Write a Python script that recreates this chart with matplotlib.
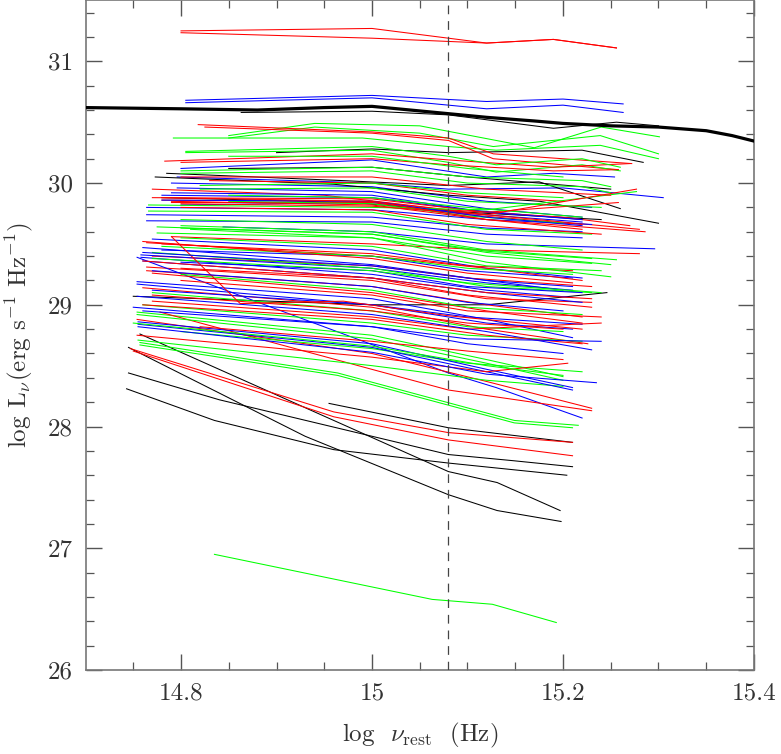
import matplotlib
matplotlib.use("Agg")
import matplotlib.pyplot as plt

plt.rcParams['font.family'] = 'cmr10'
plt.rcParams['mathtext.fontset'] = 'cm'
plt.rcParams['axes.formatter.use_mathtext'] = True

# --- data: each SED is one list of log nu and one list of log L_nu ---
red_x = [
    [14.80, 15.00, 15.12, 15.19, 15.256],
    [14.80, 15.00, 15.12, 15.19, 15.256],
    [14.818, 15.0, 15.08, 15.127, 15.272],
    [14.825, 15.0, 15.08, 15.127, 15.258],
    [14.783, 15.0, 15.08, 15.19, 15.27],
    [14.80, 15.0, 15.08, 15.19, 15.258],
    [14.83, 15.0, 15.1, 15.2],
    [14.77, 14.95, 15.08, 15.2, 15.27],
    [14.77, 15.0, 15.12, 15.258],
    [14.78, 15.0, 15.12, 15.28],
    [14.79, 15.0, 15.1, 15.22],
    [14.79, 15.0, 15.12, 15.286],
    [14.80, 15.0, 15.12, 15.277],
    [14.79, 15.0, 15.12, 15.28],
    [14.78, 15.0, 15.1, 15.21],
    [14.764, 15.0, 15.12, 15.22],
    [14.77, 15.0, 15.1, 15.23],
    [14.764, 15.0, 15.12, 15.23],
    [14.80, 15.0, 15.1, 15.23],
    [14.764, 15.0, 15.12, 15.22],
    [14.77, 15.0, 15.12, 15.22],
    [14.80, 15.0, 15.1, 15.24],
    [14.76, 15.0, 15.12, 15.226],
    [14.77, 15.0, 15.1, 15.24],
    [14.76, 15.0, 15.12, 15.22],
    [14.778, 15.08, 15.23],
    [14.754, 15.0, 15.12, 15.23],
    [14.82, 15.0, 15.1, 15.20],
    [14.754, 15.0, 15.12, 15.205],
    [14.79, 14.862, 14.97, 15.08, 15.22],
    [14.747, 14.96, 15.08, 15.21],
    [14.75, 14.96, 15.08, 15.21],
    [14.76, 15.0, 15.1, 15.21],
    [14.78, 15.0, 15.12, 15.22],
    [14.80, 15.0, 15.1, 15.24],
    [14.76, 15.0, 15.12, 15.23],
    [14.77, 15.0, 15.1, 15.2],
    [14.80, 15.0, 15.12, 15.25],
]
red_y = [
    [31.25, 31.27, 31.15, 31.18, 31.11],
    [31.235, 31.19, 31.15, 31.18, 31.11],
    [30.48, 30.42, 30.37, 30.24, 30.16],
    [30.46, 30.41, 30.35, 30.20, 30.11],
    [30.18, 30.24, 30.19, 30.13, 30.16],
    [30.17, 30.20, 30.15, 30.10, 30.11],
    [30.02, 30.0, 29.90, 29.85],
    [29.95, 29.90, 29.78, 29.72, 29.65],
    [29.88, 29.87, 29.76, 29.84],
    [29.86, 29.85, 29.74, 29.62],
    [29.84, 29.84, 29.74, 29.66],
    [29.85, 29.82, 29.70, 29.60],
    [29.83, 29.81, 29.74, 29.95],
    [29.56, 29.50, 29.45, 29.42],
    [29.50, 29.42, 29.32, 29.28],
    [29.51, 29.40, 29.30, 29.20],
    [29.40, 29.32, 29.22, 29.15],
    [29.31, 29.20, 29.05, 29.02],
    [29.30, 29.22, 29.08, 28.98],
    [29.28, 29.15, 29.00, 28.90],
    [29.26, 29.10, 28.95, 28.85],
    [29.20, 29.08, 28.95, 28.90],
    [29.14, 28.98, 28.80, 28.68],
    [29.03, 28.90, 28.80, 28.85],
    [29.00, 28.88, 28.75, 28.68],
    [28.94, 28.30, 28.13],
    [28.88, 28.60, 28.37, 28.15],
    [28.82, 28.70, 28.62, 28.55],
    [28.75, 28.57, 28.45, 28.52],
    [29.56, 29.01, 29.03, 28.91, 28.80],
    [28.64, 28.12, 27.95, 27.87],
    [28.62, 28.08, 27.89, 27.76],
    [29.52, 29.38, 29.26, 29.18],
    [29.88, 29.85, 29.70, 29.62],
    [29.80, 29.78, 29.66, 29.58],
    [29.36, 29.22, 29.10, 29.05],
    [29.08, 28.95, 28.85, 28.80],
    [30.05, 30.05, 29.95, 29.90],
]

green_x = [
    [14.85, 14.94, 15.05, 15.17, 15.24, 15.301],
    [14.85, 14.94, 15.05, 15.127, 15.239, 15.30],
    [14.792, 14.99, 15.08, 15.13, 15.239, 15.30],
    [14.805, 15.0, 15.08, 15.13, 15.22, 15.26],
    [14.805, 15.0, 15.08, 15.13, 15.22, 15.26],
    [14.80, 15.0, 15.1, 15.22, 15.25],
    [14.80, 15.0, 15.1, 15.22, 15.25],
    [14.82, 15.0, 15.1, 15.2],
    [14.82, 15.0, 15.1, 15.24],
    [14.85, 15.0, 15.1, 15.22],
    [14.85, 15.0, 15.1, 15.20],
    [14.766, 15.0, 15.12, 15.277],
    [14.766, 15.0, 15.12, 15.23],
    [14.80, 15.0, 15.12, 15.256],
    [14.80, 15.0, 15.12, 15.25],
    [14.81, 15.0, 15.12, 15.25],
    [14.775, 15.0, 15.12, 15.23],
    [14.775, 15.0, 15.12, 15.23],
    [14.78, 15.0, 15.1, 15.21],
    [14.77, 15.0, 15.12, 15.23],
    [14.77, 15.0, 15.1, 15.24],
    [14.80, 15.0, 15.1, 15.22],
    [14.77, 15.0, 15.1, 15.20],
    [14.76, 15.0, 15.1, 15.22],
    [14.754, 15.0, 15.12, 15.20],
    [14.754, 15.0, 15.12, 15.20],
    [14.80, 15.0, 15.1, 15.22],
    [14.755, 15.0, 15.12, 15.20],
    [14.757, 14.964, 15.149, 15.216],
    [14.757, 14.964, 15.149, 15.21],
    [14.835, 15.063, 15.126, 15.193],
    [14.80, 15.0, 15.12, 15.22],
    [14.80, 15.0, 15.12, 15.24],
    [14.75, 15.0, 15.12, 15.2],
    [14.85, 15.0, 15.1, 15.2],
]
green_y = [
    [30.39, 30.49, 30.47, 30.29, 30.46, 30.38],
    [30.37, 30.46, 30.41, 30.30, 30.39, 30.24],
    [30.37, 30.37, 30.30, 30.27, 30.31, 30.20],
    [30.25, 30.27, 30.17, 30.09, 30.15, 30.10],
    [30.26, 30.30, 30.22, 30.15, 30.20, 30.13],
    [30.10, 30.13, 30.05, 30.02, 29.97],
    [30.08, 30.10, 30.00, 29.97, 29.92],
    [29.98, 30.00, 29.92, 29.88],
    [29.95, 29.96, 29.85, 29.80],
    [29.90, 29.88, 29.80, 29.72],
    [29.85, 29.83, 29.73, 29.67],
    [29.82, 29.80, 29.78, 29.93],
    [29.77, 29.76, 29.62, 29.58],
    [29.65, 29.60, 29.45, 29.37],
    [29.63, 29.58, 29.43, 29.33],
    [29.62, 29.55, 29.35, 29.23],
    [29.64, 29.58, 29.44, 29.38],
    [29.59, 29.55, 29.40, 29.34],
    [29.48, 29.40, 29.30, 29.25],
    [29.43, 29.30, 29.15, 29.10],
    [29.38, 29.28, 29.18, 29.10],
    [29.25, 29.12, 28.98, 28.92],
    [29.10, 28.95, 28.82, 28.78],
    [29.00, 28.85, 28.75, 28.70],
    [28.94, 28.75, 28.55, 28.41],
    [28.92, 28.72, 28.52, 28.38],
    [28.78, 28.64, 28.52, 28.45],
    [28.71, 28.50, 28.38, 28.33],
    [28.69, 28.44, 28.05, 28.01],
    [28.67, 28.42, 28.03, 27.99],
    [26.95, 26.58, 26.54, 26.39],
    [29.70, 29.66, 29.52, 29.45],
    [29.55, 29.48, 29.32, 29.28],
    [28.85, 28.66, 28.50, 28.42],
    [30.22, 30.22, 30.12, 30.05],
]

blue_x = [
    [14.805, 15.00, 15.12, 15.20, 15.263],
    [14.805, 15.00, 15.12, 15.20, 15.263],
    [14.80, 15.0, 15.12, 15.19, 15.254],
    [14.796, 15.0, 15.08, 15.20, 15.305],
    [14.79, 15.0, 15.12, 15.23],
    [14.796, 15.0, 15.12, 15.22],
    [14.78, 15.0, 15.1, 15.22],
    [14.79, 15.0, 15.12, 15.22],
    [14.80, 15.0, 15.1, 15.22],
    [14.764, 15.0, 15.12, 15.23],
    [14.764, 15.0, 15.12, 15.22],
    [14.764, 15.0, 15.12, 15.22],
    [14.844, 15.0, 15.12, 15.296],
    [14.77, 15.0, 15.12, 15.22],
    [14.78, 15.0, 15.1, 15.21],
    [14.76, 15.0, 15.12, 15.20],
    [14.758, 15.0, 15.12, 15.21],
    [14.758, 15.0, 15.12, 15.21],
    [14.754, 15.08, 15.13, 15.22],
    [14.80, 15.0, 15.1, 15.22],
    [14.754, 15.0, 15.12, 15.21],
    [14.754, 15.0, 15.12, 15.21],
    [14.77, 15.0, 15.1, 15.22],
    [14.754, 15.0, 15.12, 15.23],
    [14.75, 15.0, 15.1, 15.2],
    [14.76, 15.0, 15.1, 15.24],
    [14.755, 15.0, 15.12, 15.21],
    [14.755, 15.0, 15.12, 15.21],
    [14.755, 15.0, 15.12, 15.235],
    [14.76, 15.0, 15.12, 15.21],
    [14.76, 15.0, 15.12, 15.22],
    [14.78, 15.0, 15.12, 15.22],
    [14.77, 15.0, 15.1, 15.2],
]
blue_y = [
    [30.68, 30.72, 30.67, 30.69, 30.65],
    [30.66, 30.70, 30.61, 30.64, 30.58],
    [30.12, 30.19, 30.05, 30.08, 30.05],
    [30.05, 30.00, 29.95, 29.96, 29.88],
    [30.00, 29.97, 29.85, 29.80],
    [29.96, 29.93, 29.79, 29.72],
    [29.90, 29.88, 29.78, 29.70],
    [29.92, 29.90, 29.76, 29.70],
    [29.82, 29.84, 29.75, 29.68],
    [29.80, 29.78, 29.70, 29.66],
    [29.74, 29.72, 29.63, 29.60],
    [29.69, 29.68, 29.58, 29.55],
    [29.64, 29.60, 29.50, 29.46],
    [29.54, 29.45, 29.30, 29.22],
    [29.45, 29.40, 29.28, 29.22],
    [29.47, 29.33, 29.20, 29.12],
    [29.41, 29.30, 29.18, 29.12],
    [29.39, 29.25, 29.12, 29.06],
    [29.39, 28.44, 28.32, 28.07],
    [29.35, 29.28, 29.15, 29.10],
    [29.19, 29.05, 28.88, 28.73],
    [29.17, 29.00, 28.85, 28.80],
    [29.12, 29.00, 28.90, 28.84],
    [29.07, 28.92, 28.78, 28.63],
    [28.98, 28.82, 28.68, 28.60],
    [28.95, 28.82, 28.72, 28.70],
    [28.86, 28.68, 28.47, 28.32],
    [28.84, 28.65, 28.45, 28.30],
    [28.82, 28.61, 28.43, 28.36],
    [29.43, 29.32, 29.20, 29.15],
    [29.36, 29.22, 29.10, 29.02],
    [29.86, 29.85, 29.72, 29.65],
    [29.28, 29.15, 29.02, 28.95],
]

black_x = [
    [14.863, 15.00, 15.08, 15.19, 15.256, 15.30],
    [14.90, 15.0, 15.08, 15.22, 15.284],
    [14.85, 15.0, 15.1, 15.25],
    [14.785, 14.97, 15.08, 15.175, 15.26],
    [14.773, 14.96, 15.08, 15.176, 15.30],
    [14.78, 14.98, 15.1, 15.24],
    [14.75, 15.0, 15.12, 15.246],
    [14.745, 14.93, 15.08, 15.131, 15.198],
    [14.757, 15.08, 15.131, 15.197],
    [14.745, 14.84, 15.08, 15.147, 15.21],
    [14.743, 14.835, 14.96, 15.08, 15.204],
    [14.955, 15.08, 15.21],
]
black_y = [
    [30.58, 30.59, 30.56, 30.45, 30.50, 30.47],
    [30.25, 30.28, 30.25, 30.27, 30.17],
    [30.12, 30.13, 30.05, 29.95],
    [30.08, 30.02, 29.98, 30.01, 29.79],
    [30.05, 29.99, 29.90, 29.85, 29.67],
    [29.88, 29.84, 29.76, 29.70],
    [29.07, 29.00, 29.00, 29.10],
    [28.65, 27.92, 27.44, 27.31, 27.22],
    [28.76, 27.63, 27.54, 27.31],
    [28.44, 28.22, 27.77, 27.72, 27.67],
    [28.31, 28.05, 27.81, 27.70, 27.60],
    [28.19, 27.99, 27.87],
]

# thick composite curve
comp_x = [14.7, 14.8, 14.88, 14.95, 15.0, 15.04, 15.08, 15.12, 15.17, 15.2,
          15.25, 15.3, 15.35, 15.377, 15.4]
comp_y = [30.62, 30.61, 30.60, 30.62, 30.63, 30.60, 30.57, 30.54, 30.51, 30.49,
          30.47, 30.46, 30.43, 30.39, 30.345]

nu_mark = 15.08

xticks = [14.8, 15.0, 15.2, 15.4]
xtick_labels = ["14.8", "15", "15.2", "15.4"]
yticks = [26, 27, 28, 29, 30, 31]
ytick_labels = ["26", "27", "28", "29", "30", "31"]

fig = plt.figure(figsize=(7.81, 7.54), dpi=100)
ax = fig.add_axes([0.1095, 0.1114, 0.8559, 0.8880])

groups = [(red_x, red_y, "#ff0000"), (green_x, green_y, "#00ff00"),
          (blue_x, blue_y, "#0000ff"), (black_x, black_y, "black")]
nmax = max(len(g[0]) for g in groups)
# interleave colours so no single colour sits on top everywhere
for i in range(nmax):
    for xs, ys, c in groups:
        if i < len(xs):
            ax.plot(xs[i], ys[i], color=c, lw=0.75)

ax.plot(comp_x, comp_y, color="black", lw=2.3, zorder=5)
ax.axvline(nu_mark, color="#444444", lw=0.9, ls=(0, (7, 5.5)), zorder=6)

ax.set_xlim(14.7, 15.4)
ax.set_ylim(26, 31.5)
ax.set_xticks(xticks)
ax.set_xticklabels(xtick_labels)
ax.set_yticks(yticks)
ax.set_yticklabels(ytick_labels)
ax.set_xticks([14.75 + 0.05 * k for k in range(13)], minor=True)
ax.set_yticks([26 + 0.2 * k for k in range(28)], minor=True)
ax.tick_params(which="both", direction="in", top=True, right=True,
               color="#555555", labelsize=18, labelcolor="#333333")
ax.tick_params(which="major", length=11.5, width=1.0, pad=9)
ax.tick_params(which="minor", length=5.8, width=0.9)
for s in ax.spines.values():
    s.set_color("#777777")
    s.set_linewidth(1.2)

ax.set_xlabel(r"log  $\nu_{\rm rest}$  (Hz)", fontsize=18, color="#333333")
ax.set_ylabel(r"log L$_\nu$(erg s$^{-1}$ Hz$^{-1}$)", fontsize=18, color="#333333")
ax.xaxis.set_label_coords(0.5, -0.076)
ax.yaxis.set_label_coords(-0.076, 0.5)

fig.savefig("out.png", dpi=100)
